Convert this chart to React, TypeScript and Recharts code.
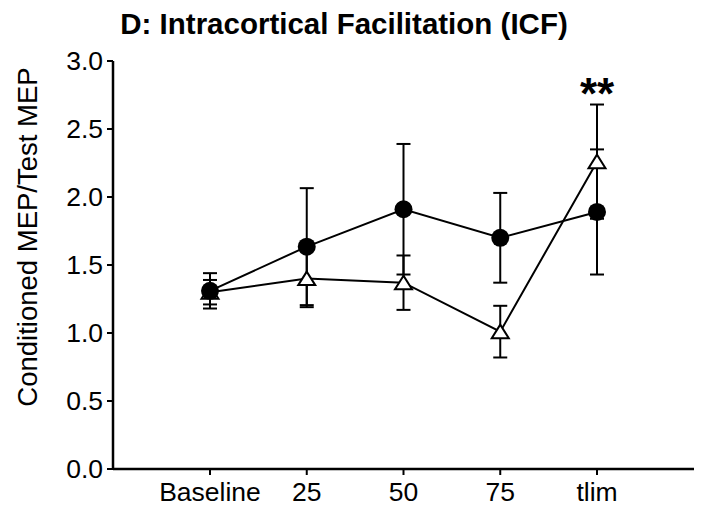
import React from 'react';
import { LineChart, Line, XAxis, YAxis, ErrorBar, LabelList } from 'recharts';

const categories = ['Baseline', '25', '50', '75', 'tlim'];
const filledMean = [1.31, 1.635, 1.91, 1.7, 1.89];
const filledSem = [0.13, 0.43, 0.48, 0.33, 0.46];
const openMean = [1.3, 1.4, 1.37, 1.01, 2.26];
const openSem = [0.09, 0.21, 0.2, 0.19, 0.42];
const significance = ['', '', '', '', '**'];
const yTicks = [0, 0.5, 1, 1.5, 2, 2.5, 3];

const data = categories.map((name, i) => ({
  name,
  filled: filledMean[i],
  filledErr: filledSem[i],
  open: openMean[i],
  openErr: openSem[i],
  sig: significance[i],
}));

const font = '"Liberation Sans", Arial, sans-serif';

const TriangleDot = (props: any) => {
  const { cx, cy, index } = props;
  if (cx == null || cy == null) return null;
  const pts = `${cx},${cy - 7} ${cx - 8.5},${cy + 6.5} ${cx + 8.5},${cy + 6.5}`;
  return <polygon key={`tri-${index}`} points={pts} fill="#fff" stroke="#000" strokeWidth={2} />;
};

const YLabel = () => (
  <text
    x={37}
    y={237}
    transform="rotate(-90, 37, 237)"
    textAnchor="middle"
    fontSize={27.5}
    fontFamily={font}
    fill="#000"
  >
    Conditioned MEP/Test MEP
  </text>
);

// the significance stars sit above the tlim error bar
const SigLabel = (props: any) => {
  const { x, y, value, index } = props;
  if (!value) return null;
  return (
    <text key={`sig-${index}`} x={x} y={y - 53} textAnchor="middle" fontSize={44} fontWeight="bold" fontFamily={font} fill="#000">
      {value}
    </text>
  );
};

export default function App() {
  return (
    <div style={{ position: 'absolute', left: 0, top: 0, width: 708, height: 510, background: '#fff', fontFamily: font }}>
      <div
        style={{
          position: 'absolute',
          left: 0,
          top: 9,
          width: 688,
          textAlign: 'center',
          fontSize: 29.5,
          lineHeight: '29px',
          fontWeight: 'bold',
          color: '#000',
        }}
      >
        D: Intracortical Facilitation (ICF)
      </div>
      <LineChart width={708} height={510} data={data} margin={{ top: 61, right: 14, bottom: 0, left: 0 }}>
        <XAxis
          dataKey="name"
          type="category"
          padding={{ left: 97, right: 97 }}
          height={41}
          axisLine={{ stroke: '#000', strokeWidth: 2.5 }}
          tickLine={{ stroke: '#000', strokeWidth: 2 }}
          tickSize={6}
          tickMargin={7}
          tick={{ fill: '#000', fontSize: 26.5, fontFamily: font }}
        />
        <YAxis
          width={113}
          domain={[0, 3]}
          ticks={yTicks}
          interval={0}
          tickFormatter={(v: number) => v.toFixed(1)}
          axisLine={{ stroke: '#000', strokeWidth: 2.5 }}
          tickLine={{ stroke: '#000', strokeWidth: 2 }}
          tickSize={6}
          tickMargin={4}
          tick={{ fill: '#000', fontSize: 26.5, fontFamily: font }}
          label={<YLabel />}
        />
        <Line
          dataKey="open"
          stroke="#000"
          strokeWidth={2}
          type="linear"
          dot={<TriangleDot />}
          activeDot={false}
          isAnimationActive={false}
        >
          <ErrorBar dataKey="openErr" width={7} stroke="#000" strokeWidth={2} direction="y" />
          <LabelList dataKey="sig" content={<SigLabel />} />
        </Line>
        <Line
          dataKey="filled"
          stroke="#000"
          strokeWidth={2}
          type="linear"
          dot={{ r: 9, fill: '#000', stroke: '#000', strokeWidth: 0 }}
          activeDot={false}
          isAnimationActive={false}
        >
          <ErrorBar dataKey="filledErr" width={7} stroke="#000" strokeWidth={2} direction="y" />
        </Line>
      </LineChart>
    </div>
  );
}
